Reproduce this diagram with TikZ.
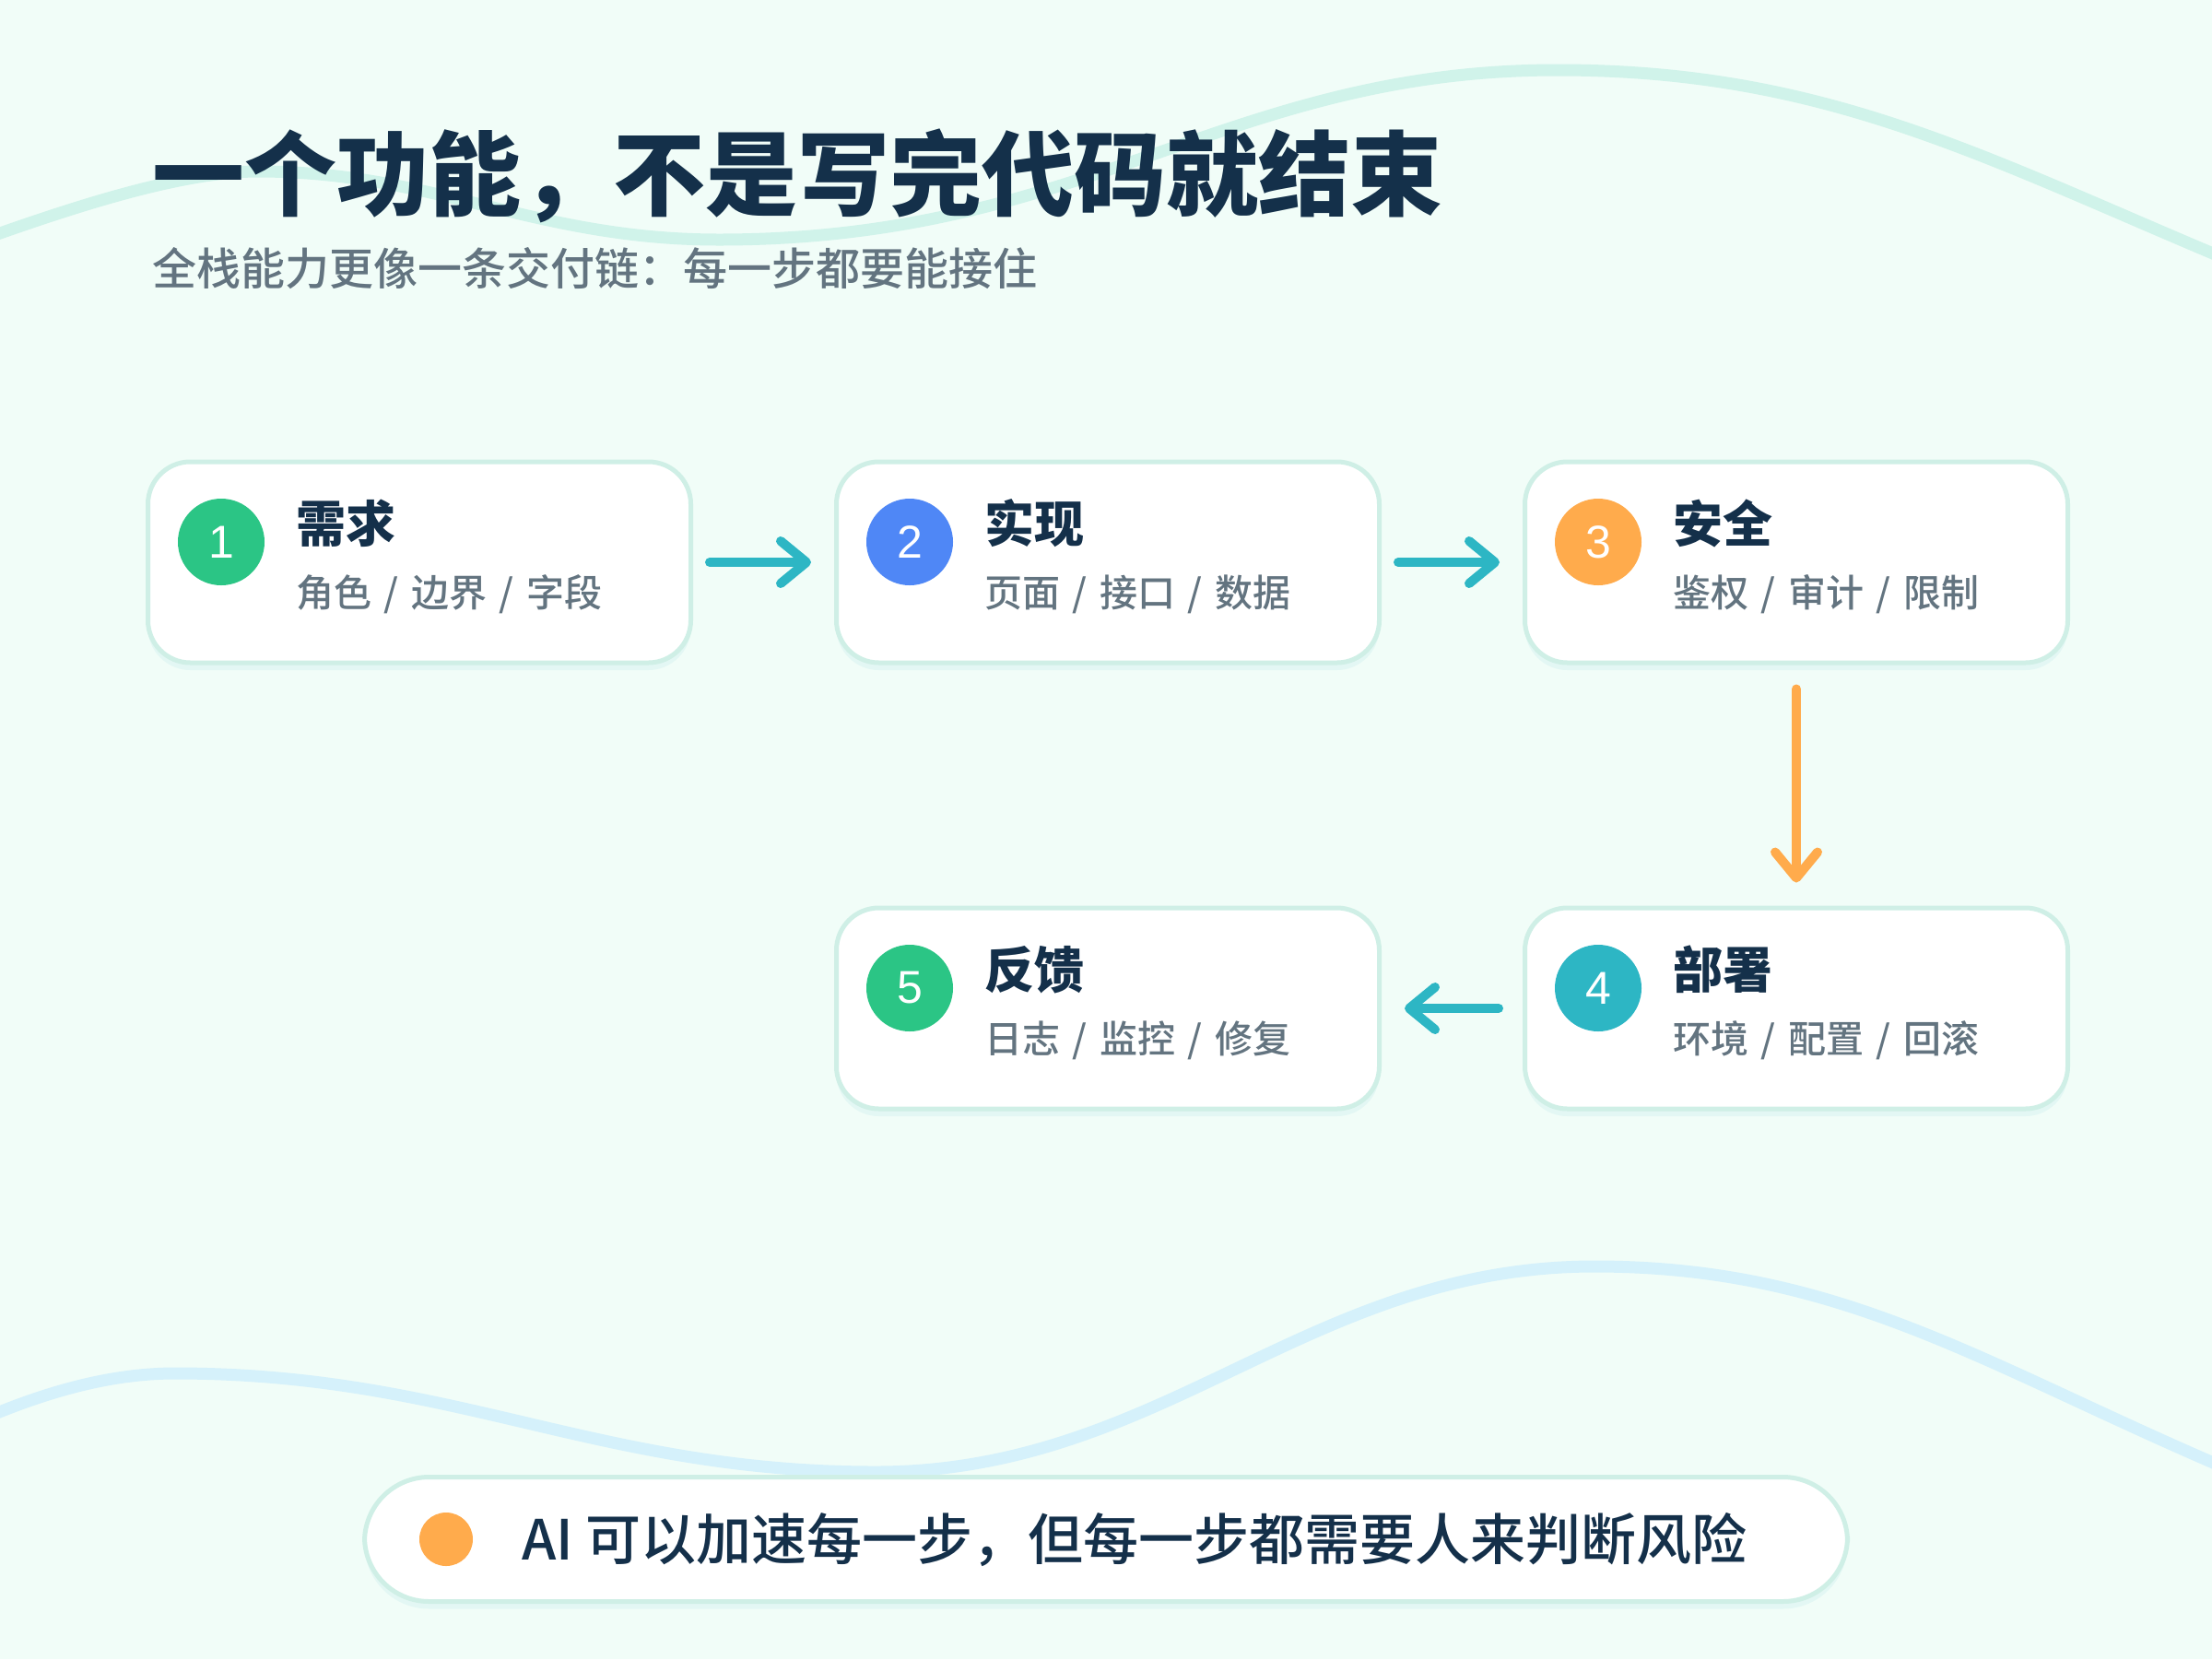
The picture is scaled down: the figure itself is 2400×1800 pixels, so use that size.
\documentclass[tikz,border=0pt]{standalone}
\usepackage{fontspec}
\setmainfont{Noto Sans CJK SC}
\newfontfamily\med{Noto Sans CJK SC Medium}
\newfontfamily\digit{Liberation Sans}
\usetikzlibrary{arrows.meta,positioning,shadows}
\definecolor{bgc}{HTML}{F1FDF8}
\definecolor{ink}{HTML}{14304A}
\definecolor{mute}{HTML}{637480}
\definecolor{edge}{HTML}{CFEFE6}
\definecolor{wv1}{HTML}{D0F3EA}
\definecolor{wv2}{HTML}{D5F1FB}
\definecolor{cg}{HTML}{2BC585}
\definecolor{cb}{HTML}{4F87F6}
\definecolor{co}{HTML}{FFAB4C}
\definecolor{ct}{HTML}{2DB6C4}
\newcommand{\fs}[1]{\fontsize{#1}{#1}\selectfont}
\newcommand{\dv}{\hspace{.33em}/\hspace{.33em}}
\tikzset{card/.style={draw=edge,line width=5pt,fill=white,rounded corners=46pt,minimum width=589pt,minimum height=218pt,
   drop shadow={shadow xshift=0pt,shadow yshift=-8pt,opacity=.07,fill=ct}},
 num/.style={circle,minimum size=94pt,inner sep=0,text=white,font=\digit\fs{50}},
 ttl/.style={anchor=west,inner sep=0,text=ink,font=\fs{54}\bfseries},
 sub/.style={anchor=west,inner sep=0,text=mute,font=\med\fs{41}},
 flow/.style={line width=10pt,line cap=round,-{Straight Barb[length=28pt,width=46pt,round]},shorten <=18pt,shorten >=25pt},
 wave/.style={line width=13pt}}

\begin{document}
\begin{tikzpicture}[x=1pt,y=-1pt]
\fill[bgc] (0,0) rectangle (2400,1800);
\useasboundingbox (0,0) rectangle (2400,1800);
% background waves
\draw[wave,wv1] (-20,260) .. controls (60,232) and (190,186) .. (280,186)
  .. controls (470,186) and (580,260) .. (780,260)
  .. controls (1180,260) and (1330,76) .. (1690,76)
  .. controls (1980,76) and (2150,170) .. (2420,283);
\draw[wave,wv2] (-20,1540) .. controls (50,1510) and (120,1490) .. (190,1490)
  .. controls (494,1490) and (646,1597) .. (950,1597)
  .. controls (1262,1597) and (1418,1374) .. (1730,1374)
  .. controls (1998,1374) and (2150,1480) .. (2420,1595);
% heading
\node[anchor=west,inner sep=0,text=ink,font=\fs{100}\bfseries] (head) at (165,191) {一个功能，不是写完代码就结束};
\node[anchor=west,inner sep=0,text=mute,font=\med\fs{48}] (lead) at (165,291) {全栈能力更像一条交付链：每一步都要能接住};
% steps
\foreach \k/\x/\y/\c/\t/\s in {1/455/610/cg/需求/角色\dv 边界\dv 字段,
  2/1202/610/cb/实现/页面\dv 接口\dv 数据,
  3/1949/610/co/安全/鉴权\dv 审计\dv 限制,
  4/1949/1094/ct/部署/环境\dv 配置\dv 回滚,
  5/1202/1094/cg/反馈/日志\dv 监控\dv 修复}{
 \node[card] (c\k) at (\x,\y) {};
 \node[num,fill=\c] (n\k) at ({\x-215},{\y-22}) {\k};
 \node[ttl] (t\k) at ({\x-134},{\y-42}) {\t};
 \node[sub] (s\k) at ({\x-134},{\y+35}) {\s};
}
\draw[flow,ct] (c1) -- (c2);
\draw[flow,ct] (c2) -- (c3);
\draw[flow,co,shorten <=26pt] (c3) -- (c4);
\draw[flow,ct,shorten <=26pt] (c4) -- (c5);
% note
\node[card,rounded corners=70pt,minimum width=1609pt,minimum height=135pt] (note) at (1200,1670) {};
\node[circle,fill=co,minimum size=58pt,inner sep=0] (dot) at (484,1670) {};
\node[anchor=west,inner sep=0,text=ink,font=\med\fs{60}] (msg) at (566,1670) {AI 可以加速每一步，但每一步都需要人来判断风险};
\end{tikzpicture}
\end{document}
